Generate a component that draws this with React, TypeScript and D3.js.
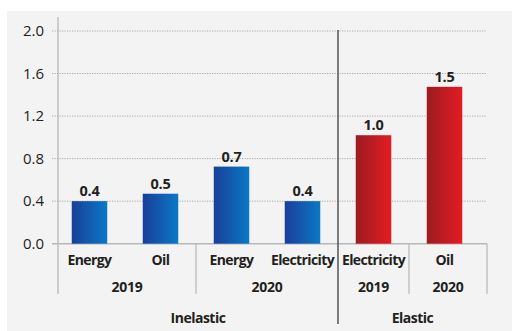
import React from "react";
import * as d3 from "d3";

const categories = ["Energy", "Oil", "Energy", "Electricity", "Electricity", "Oil"];
const years = ["2019", "2019", "2020", "2020", "2019", "2020"];
const groups = ["Inelastic", "Inelastic", "Inelastic", "Inelastic", "Elastic", "Elastic"];
const values = [0.4, 0.47, 0.725, 0.4, 1.02, 1.475];
const valueLabels = ["0.4", "0.5", "0.7", "0.4", "1.0", "1.5"];
const yTicks = [0, 0.4, 0.8, 1.2, 1.6, 2.0];

const W = 512;
const H = 331;
const axisX = 58;
const rightX = 487;
const y0 = 243.7;
const yTop = 31;

export default function App() {
  const ids = categories.map((_, i) => String(i));
  const x = d3.scaleBand<string>().domain(ids).range([54, 480]).paddingInner(0.5).paddingOuter(0.25);
  const y = d3.scaleLinear().domain([0, 2]).range([y0, yTop]);
  const bw = x.bandwidth();
  const center = (i: number) => (x(String(i)) as number) + bw / 2;

  const yearSeps: number[] = [];
  const groupSeps: number[] = [];
  for (let i = 1; i < ids.length; i++) {
    const mid = (center(i - 1) + center(i)) / 2;
    if (groups[i] !== groups[i - 1]) groupSeps.push(mid);
    else if (years[i] !== years[i - 1] || groups[i] === "Elastic") yearSeps.push(mid);
  }

  const yearSpans: { label: string; x0: number; x1: number; key: string }[] = [];
  const groupSpans: { label: string; x0: number; x1: number }[] = [];
  const bounds = [axisX, ...ids.slice(1).map((_, k) => (center(k) + center(k + 1)) / 2), rightX];
  ids.forEach((_, i) => {
    const key = groups[i] + years[i];
    const last = yearSpans[yearSpans.length - 1];
    if (last && last.key === key) last.x1 = bounds[i + 1];
    else yearSpans.push({ label: years[i], x0: bounds[i], x1: bounds[i + 1], key });
    const lg = groupSpans[groupSpans.length - 1];
    if (lg && lg.label === groups[i]) lg.x1 = bounds[i + 1];
    else groupSpans.push({ label: groups[i], x0: bounds[i], x1: bounds[i + 1] });
  });

  const font = "'Open Sans', 'Noto Sans', sans-serif";
  const textColor = "#231f20";

  return (
    <svg width={W} height={H} style={{ position: "absolute", left: 0, top: 0 }}>
      <defs>
        <linearGradient id="blueGrad" x1="0" x2="1" y1="0" y2="0">
          <stop offset="0%" stopColor="#1a3f99" />
          <stop offset="100%" stopColor="#0a78c6" />
        </linearGradient>
        <linearGradient id="redGrad" x1="0" x2="1" y1="0" y2="0">
          <stop offset="0%" stopColor="#9b1c21" />
          <stop offset="100%" stopColor="#e41b23" />
        </linearGradient>
      </defs>
      <rect x={0} y={0} width={W} height={H} fill="#ffffff" />
      <rect x={7} y={11} width={W - 7} height={H - 11} fill="#f3f3f3" />

      {yTicks.filter((t) => t > 0).map((t) => (
        <line key={t} x1={52} x2={rightX} y1={y(t)} y2={y(t)} stroke="#a8a8a8" strokeWidth={1} strokeDasharray="1.2,1.3" />
      ))}
      {yTicks.map((t) => (
        <text key={"l" + t} x={44} y={y(t) + 5.3} textAnchor="end" fontFamily={font} fontSize={15} fill={textColor}>
          {t.toFixed(1)}
        </text>
      ))}

      <line x1={axisX} x2={axisX} y1={17} y2={294} stroke="#b3b3b3" strokeWidth={1.2} />
      <line x1={52} x2={rightX} y1={y(0)} y2={y(0)} stroke="#b8b8b8" strokeWidth={1.5} />
      {yearSeps.map((s, i) => (
        <line key={"ys" + i} x1={s} x2={s} y1={y(0)} y2={294} stroke="#b8b8b8" strokeWidth={1.2} />
      ))}
      <line x1={rightX} x2={rightX} y1={y(0)} y2={294} stroke="#b8b8b8" strokeWidth={1.2} />

      {values.map((v, i) => (
        <rect
          key={"b" + i}
          x={x(String(i))}
          y={y(v)}
          width={bw}
          height={y(0) - y(v)}
          fill={groups[i] === "Elastic" ? "url(#redGrad)" : "url(#blueGrad)"}
        />
      ))}

      {groupSeps.map((s, i) => (
        <line key={"gs" + i} x1={s} x2={s} y1={30} y2={324} stroke="#555555" strokeWidth={1.5} />
      ))}

      {values.map((v, i) => (
        <text key={"v" + i} x={center(i)} y={y(v) - 5} textAnchor="middle" fontFamily={font} fontWeight={700} fontSize={14.5} fill={textColor} letterSpacing={-0.3}>
          {valueLabels[i]}
        </text>
      ))}

      {categories.map((c, i) => (
        <text key={"c" + i} x={center(i)} y={264.5} textAnchor="middle" fontFamily={font} fontWeight={700} fontSize={14} fill={textColor} letterSpacing={-0.6}>
          {c}
        </text>
      ))}
      {yearSpans.map((s, i) => (
        <text key={"y" + i} x={(s.x0 + s.x1) / 2} y={291.5} textAnchor="middle" fontFamily={font} fontWeight={700} fontSize={14} fill={textColor} letterSpacing={-0.3}>
          {s.label}
        </text>
      ))}
      {groupSpans.map((s, i) => (
        <text key={"g" + i} x={(s.x0 + s.x1) / 2} y={323} textAnchor="middle" fontFamily={font} fontWeight={700} fontSize={14} fill={textColor} letterSpacing={-0.5}>
          {s.label}
        </text>
      ))}
    </svg>
  );
}
